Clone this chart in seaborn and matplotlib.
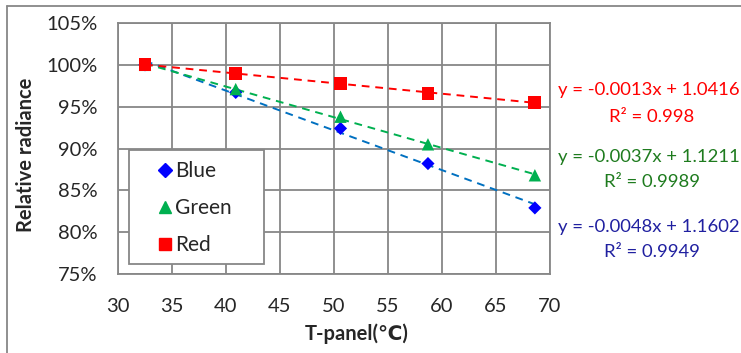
import numpy as np
import pandas as pd
import matplotlib
matplotlib.use("Agg")
import matplotlib.pyplot as plt
import seaborn as sns
from matplotlib.lines import Line2D
from matplotlib.patches import Rectangle

# ---- data ----
temps = [32.5, 40.9, 50.6, 58.7, 68.6]
blue = [1.000, 0.967, 0.924, 0.882, 0.829]
green = [1.000, 0.971, 0.938, 0.905, 0.868]
red = [1.000, 0.990, 0.978, 0.966, 0.955]
series_names = ["Blue", "Green", "Red"]
equations = ["y = -0.0048x + 1.1602", "y = -0.0037x + 1.1211", "y = -0.0013x + 1.0416"]
r2_labels = ["R² = 0.9949", "R² = 0.9989", "R² = 0.998"]
x_ticks = [30, 35, 40, 45, 50, 55, 60, 65, 70]
y_ticks = [0.75, 0.80, 0.85, 0.90, 0.95, 1.00, 1.05]

sns.set_style("white")
plt.rcParams['font.family'] = ['Lato', 'DejaVu Sans']

df = pd.DataFrame({
    "T": temps * 3,
    "val": blue + green + red,
    "series": ["Blue"] * 5 + ["Green"] * 5 + ["Red"] * 5,
})

marker_colors = {"Blue": "#0000FF", "Green": "#00B050", "Red": "#FF0000"}
trend_colors = {"Blue": "#0070C0", "Green": "#00B050", "Red": "#FF0000"}
text_colors = {"Blue": "#2020A0", "Green": "#1E7B1E", "Red": "#FF0000"}
markers = {"Blue": "D", "Green": "^", "Red": "s"}
sizes = {"Blue": 45, "Green": 80, "Red": 85}

W, H = 741, 353
fig = plt.figure(figsize=(W/100, H/100), dpi=100)
L, R, T, B = 118, 550, 23, 274
ax = fig.add_axes([L/W, 1-B/H, (R-L)/W, (B-T)/H])

def ax_coords(px, py):
    return ((px - L) / (R - L), (B - py) / (B - T))

# trendlines
for name in series_names:
    sub = df[df.series == name]
    k, b = np.polyfit(sub["T"], sub["val"], 1)
    xs = np.array([sub["T"].min(), sub["T"].max()])
    ax.plot(xs, k*xs + b, ls=(0, (4, 3)), color=trend_colors[name], lw=1.4, zorder=2)

for name in series_names:
    sub = df[df.series == name]
    sns.scatterplot(data=sub, x="T", y="val", marker=markers[name], color=marker_colors[name],
                    s=sizes[name], edgecolor="none", ax=ax, zorder=3, legend=False)

ax.set_xlim(30, 70)
ax.set_ylim(0.75, 1.05)
ax.set_xticks(x_ticks)
ax.set_yticks(y_ticks)
ax.set_yticklabels([f"{int(round(v*100))}%" for v in y_ticks])
ax.grid(True, color="#878787", lw=1.3)
ax.set_axisbelow(True)
for sp in ax.spines.values():
    sp.set_color("#878787")
    sp.set_linewidth(1.3)
ax.tick_params(axis="both", which="both", length=5, width=1.3, color="#878787",
               labelsize=14.5, direction="out")
ax.tick_params(axis="x", pad=12)
ax.tick_params(axis="y", pad=10)
ax.set_xlabel("T-panel(℃)", fontsize=14.5, fontweight="bold")
ax.set_ylabel("Relative radiance", fontsize=14.5, fontweight="bold")
ax.xaxis.set_label_coords(*ax_coords(357, 334))
ax.xaxis.label.set_va("center")
ax.yaxis.set_label_coords(*ax_coords(26, 155))
ax.yaxis.label.set_va("center")

# legend box
x0, y0 = ax_coords(129, 264)
x1, y1 = ax_coords(264, 150)
ax.add_patch(Rectangle((x0, y0), x1 - x0, y1 - y0, transform=ax.transAxes,
                       facecolor="white", edgecolor="#878787", lw=1.3, zorder=4))
handles = [Line2D([], [], marker=markers[n], color=marker_colors[n], ls="none",
                  markersize={"Blue": 7, "Green": 9, "Red": 9}[n]) for n in series_names]
lx, ly = ax_coords(156, 157)
leg = ax.legend(handles, series_names, loc="upper left", bbox_to_anchor=(lx, ly),
                frameon=False, fontsize=15, handlelength=0.5,
                handletextpad=0.2, labelspacing=0.82, borderpad=0.2, borderaxespad=0)
leg.set_zorder(5)

# equations
eq_pos = {"Red": (90, 117), "Green": (157, 182), "Blue": (227, 252)}
for i, name in enumerate(series_names):
    ye, yr = eq_pos[name]
    fig.text(558/W, 1-ye/H, equations[i], color=text_colors[name], fontsize=13.3,
             ha="left", va="center")
    fig.text(652/W, 1-yr/H, r2_labels[i], color=text_colors[name], fontsize=13.3,
             ha="center", va="center")

# outer frame
fig.add_artist(Line2D([7/W, 1.0], [1-6/H, 1-6/H], color="#878787", lw=1.3, transform=fig.transFigure))
fig.add_artist(Line2D([7/W, 7/W], [0.0, 1-6/H], color="#878787", lw=1.3, transform=fig.transFigure))

fig.savefig("out.png", dpi=100)
